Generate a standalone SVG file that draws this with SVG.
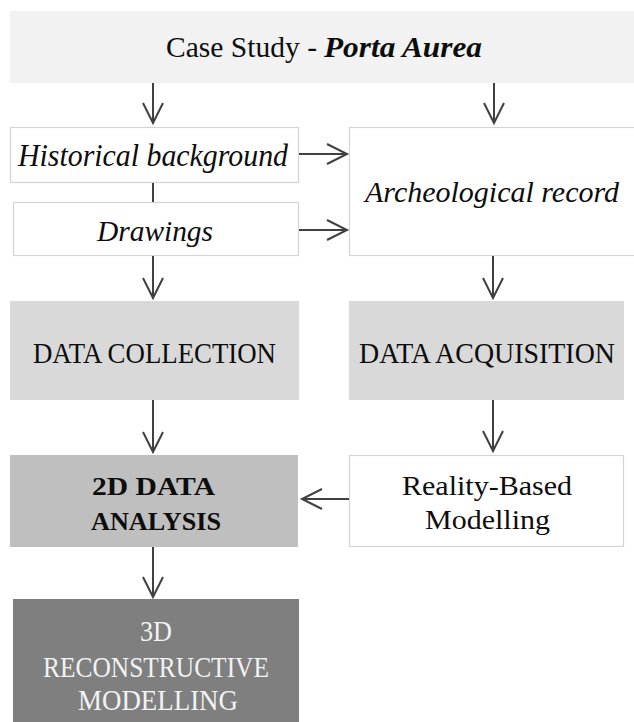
<svg xmlns="http://www.w3.org/2000/svg" width="634" height="722" viewBox="0 0 634 722">
<style>
text{font-family:"Liberation Serif","Times New Roman",serif;fill:#0d0d0d;}
.lbl{font-size:30px;}
.it{font-style:italic;}
.bold{font-weight:bold;}
.wt{fill:#f2f2f2;}
.box{stroke:#d4d4d4;stroke-width:1.2;fill:#ffffff;}
.conn line{stroke:#404040;stroke-width:2;fill:none;}
</style>
<defs>
<marker id="arr" viewBox="0 0 24 24" refX="21" refY="12" markerWidth="24" markerHeight="24" markerUnits="userSpaceOnUse" orient="auto" overflow="visible">
<path d="M1,2 L21,12 L1,22" fill="none" stroke="#404040" stroke-width="2"/>
</marker>
</defs>
<rect width="634" height="722" fill="#ffffff"/>
<g id="case-study">
<rect x="10" y="11" width="624" height="72" fill="#f2f2f2"/>
<text class="lbl" x="166" y="57" textLength="151" lengthAdjust="spacingAndGlyphs" style="font-size:29px">Case Study -</text>
<text class="lbl it bold" x="324" y="57" textLength="158" lengthAdjust="spacingAndGlyphs" style="font-size:29px">Porta Aurea</text>
</g>
<g id="historical">
<rect class="box" x="10.5" y="127.5" width="288" height="55"/>
<text class="lbl it" x="18" y="166" textLength="270" lengthAdjust="spacingAndGlyphs" style="font-size:31px">Historical background</text>
</g>
<g id="drawings">
<rect class="box" x="13.5" y="202.5" width="285" height="53"/>
<text class="lbl it" x="97" y="241" textLength="116" lengthAdjust="spacingAndGlyphs">Drawings</text>
</g>
<g id="archeological">
<rect class="box" x="349.5" y="127.5" width="290" height="128"/>
<text class="lbl it" x="365" y="202" textLength="254" lengthAdjust="spacingAndGlyphs">Archeological record</text>
</g>
<g id="data-collection">
<rect x="10" y="301" width="289" height="99" fill="#d9d9d9"/>
<text class="lbl" x="33" y="363" textLength="243" lengthAdjust="spacingAndGlyphs">DATA COLLECTION</text>
</g>
<g id="data-acquisition">
<rect x="349" y="301" width="275" height="99" fill="#d9d9d9"/>
<text class="lbl" x="359" y="363" textLength="256" lengthAdjust="spacingAndGlyphs">DATA ACQUISITION</text>
</g>
<g id="analysis-2d">
<rect x="10" y="455" width="288" height="92" fill="#bfbfbf"/>
<text class="lbl bold" x="92" y="495" textLength="123" lengthAdjust="spacingAndGlyphs" style="font-size:26px">2D DATA</text>
<text class="lbl bold" x="91" y="530" textLength="130" lengthAdjust="spacingAndGlyphs" style="font-size:26px">ANALYSIS</text>
</g>
<g id="reality-based">
<rect class="box" x="349.5" y="455.5" width="274" height="91"/>
<text class="lbl" x="402" y="495" textLength="170" lengthAdjust="spacingAndGlyphs" style="font-size:27px">Reality-Based</text>
<text class="lbl" x="425" y="529" textLength="125" lengthAdjust="spacingAndGlyphs" style="font-size:27px">Modelling</text>
</g>
<g id="reconstructive-3d">
<rect x="13" y="599" width="286" height="130" fill="#7f7f7f"/>
<text class="lbl wt" x="140" y="641" textLength="32" lengthAdjust="spacingAndGlyphs">3D</text>
<text class="lbl wt" x="43" y="677" textLength="226" lengthAdjust="spacingAndGlyphs">RECONSTRUCTIVE</text>
<text class="lbl wt" x="78" y="710" textLength="160" lengthAdjust="spacingAndGlyphs">MODELLING</text>
</g>
<g id="connectors" class="conn">
<line x1="153" y1="83" x2="153" y2="123" marker-end="url(#arr)"/>
<line x1="494" y1="83" x2="494" y2="123" marker-end="url(#arr)"/>
<line x1="299" y1="154" x2="347" y2="154" marker-end="url(#arr)"/>
<line x1="299" y1="230" x2="347" y2="230" marker-end="url(#arr)"/>
<line x1="153" y1="183" x2="153" y2="202"/>
<line x1="153" y1="256" x2="153" y2="298" marker-end="url(#arr)"/>
<line x1="493" y1="256" x2="493" y2="298" marker-end="url(#arr)"/>
<line x1="153" y1="400" x2="153" y2="452" marker-end="url(#arr)"/>
<line x1="493" y1="400" x2="493" y2="451" marker-end="url(#arr)"/>
<line x1="349" y1="499" x2="302" y2="499" marker-end="url(#arr)"/>
<line x1="153" y1="547" x2="153" y2="597" marker-end="url(#arr)"/>
</g>
</svg>
